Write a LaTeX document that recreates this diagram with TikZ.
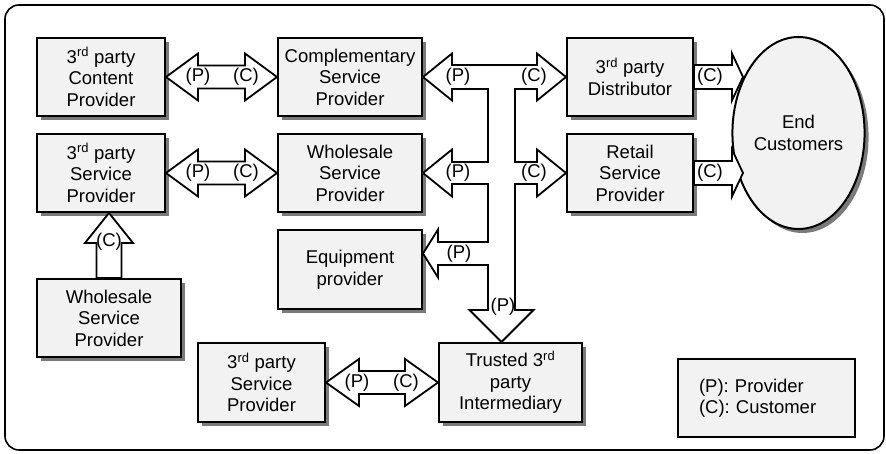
\documentclass[tikz,border=0pt]{standalone}
\usepackage{fontspec}
\setmainfont{Liberation Sans}
\usetikzlibrary{positioning,calc,shadows,shapes.geometric}

\definecolor{boxgray}{HTML}{F2F2F2}
\definecolor{shadegray}{HTML}{7A7A7A}
\newcommand{\rolefont}{\fontsize{18.5pt}{21.5pt}\selectfont}
\newcommand{\third}{3\textsuperscript{rd}}

\begin{document}
\begin{tikzpicture}[
  x=1pt, y=1pt,
  actor/.style={draw, line width=2pt, fill=boxgray, align=center, font=\rolefont,
    inner sep=2pt, minimum height=78pt,
    drop shadow={shadow xshift=4pt, shadow yshift=-4pt, fill=shadegray, opacity=1}},
  blockarrow/.style={draw, line width=1.8pt, fill=white, line join=miter},
  flowlbl/.style={font=\rolefont, inner sep=0pt},
  legendbox/.style={draw, line width=1.5pt, fill=boxgray, font=\rolefont, align=left,
    text width=135pt, inner xsep=21pt, minimum height=78pt}
]
\useasboundingbox (0,0) rectangle (886,454);

% Frame
\draw[line width=1.6pt, rounded corners=14pt] (5,4) rectangle (884,449);

% Left column
\node[actor, minimum width=128pt] (cp) at (101,377) {\third{} party\\Content\\Provider};
\node[actor, minimum width=128pt, below=16pt of cp] (sp) {\third{} party\\Service\\Provider};
\node[actor, minimum width=144pt] (wsl) at (109,136) {Wholesale\\Service\\Provider};

% Middle column
\node[actor, minimum width=144pt] (csp) at (350,377) {Complementary\\Service\\Provider};
\node[actor, minimum width=144pt, below=16pt of csp] (wsp) {Wholesale\\Service\\Provider};
\node[actor, minimum width=144pt, minimum height=79pt] (eq) at (350,184.5) {Equipment\\provider};

% Right column and customers
\node[actor, minimum width=126pt] (dist) at (630,377) {\third{} party\\Distributor};
\node[actor, minimum width=126pt, below=16pt of dist] (rsp) {Retail\\Service\\Provider};
\node[actor, ellipse, minimum width=111pt, minimum height=192pt] (cust) at (798.5,321) {End\\Customers};

% Bottom row
\node[actor, minimum width=127pt, minimum height=79pt] (tsp) at (261.5,71.5) {\third{} party\\Service\\Provider};
\node[actor, minimum width=143pt, minimum height=79pt] (tti) at (510.5,71.5) {Trusted \third\\party\\Intermediary};
\node[legendbox] (key) at (766.5,56) {(P): Provider\\(C): Customer};

% Two-way block arrows
\draw[blockarrow] (cp.east) -- ++(32,23.5) |- ($(csp.west)+(-32,11.5)$) -- ++(0,12) -- (csp.west)
  -- ++(-32,-23.5) |- ($(cp.east)+(32,-11.5)$) -- ++(0,-12) -- cycle;
\draw[blockarrow] (sp.east) -- ++(32,23.5) |- ($(wsp.west)+(-32,11.5)$) -- ++(0,12) -- (wsp.west)
  -- ++(-32,-23.5) |- ($(sp.east)+(32,-11.5)$) -- ++(0,-12) -- cycle;
\draw[blockarrow] (tsp.east) -- ++(33,23.5) |- ($(tti.west)+(-33,11.5)$) -- ++(0,12) -- (tti.west)
  -- ++(-33,-23.5) |- ($(tsp.east)+(33,-11.5)$) -- ++(0,-12) -- cycle;

% Wholesale up to 3rd party service provider
\draw[blockarrow] ($(wsl.north)+(-12.5,0)$) -- ($(wsl.north |- sp.south)+(-12.5,-30)$) -- ++(-11.5,0)
  -- (wsl.north |- sp.south) -- ++(24,-30) -- ++(-11.5,0) -- ($(wsl.north)+(12.5,0)$) -- cycle;

% Out to end customers
\draw[blockarrow] ($(dist.east)+(0,12)$) -- ++(38,0) -- ++(0,11.5) -- ++(11,-23.5) -- ++(-11,-23.5)
  -- ++(0,11.5) -- ++(-38,0) -- cycle;
\draw[blockarrow] ($(rsp.east)+(0,12)$) -- ++(38,0) -- ++(0,11.5) -- ++(11,-23.5) -- ++(-11,-23.5)
  -- ++(0,11.5) -- ++(-38,0) -- cycle;

% Central trunk with its branches
\draw[blockarrow] (csp.east) -- (452,400.5) -- (452,389) -- (537,389) -- (537,400.5) -- (dist.west)
  -- (537,353.5) -- (537,365) -- (515,365) -- (515,292) -- (537,292) -- (537,304.5) -- (rsp.west)
  -- (537,257.5) -- (537,270) -- (515,270) -- (515,144) -- (533.5,144) -- ($(tti.north)+(-9,0)$)
  -- (469.5,144) -- (488,144) -- (488,189) -- (438,189) -- (438,176.5) -- ($(eq.east)+(0,16)$)
  -- (438,224.5) -- (438,212) -- (488,212) -- (488,270) -- (452,270) -- (452,257.5) -- (wsp.east)
  -- (452,304.5) -- (452,292) -- (488,292) -- (488,365) -- (452,365) -- (452,353.5) -- cycle;

% Provider / customer marks
\node[flowlbl] (p1) at ($(cp.east)+(32,0)$) {(P)};
\node[flowlbl] (c1) at ($(csp.west)+(-31,0)$) {(C)};
\node[flowlbl] (p2) at ($(sp.east)+(32,0)$) {(P)};
\node[flowlbl] (c2) at ($(wsp.west)+(-31,0)$) {(C)};
\node[flowlbl] (p3) at ($(tsp.east)+(31,0)$) {(P)};
\node[flowlbl] (c3) at ($(tti.west)+(-32,0)$) {(C)};
\node[flowlbl] (c4) at (109,212) {(C)};
\node[flowlbl] (c5) at ($(dist.east)+(16,0)$) {(C)};
\node[flowlbl] (c6) at ($(rsp.east)+(16,0)$) {(C)};
\node[flowlbl] (p4) at (458,377) {(P)};
\node[flowlbl] (c7) at (534,377) {(C)};
\node[flowlbl] (p5) at (458,281) {(P)};
\node[flowlbl] (c8) at (534,281) {(C)};
\node[flowlbl] (p6) at (459,200.5) {(P)};
\node[flowlbl] (p7) at (503,147) {(P)};

\end{tikzpicture}
\end{document}
